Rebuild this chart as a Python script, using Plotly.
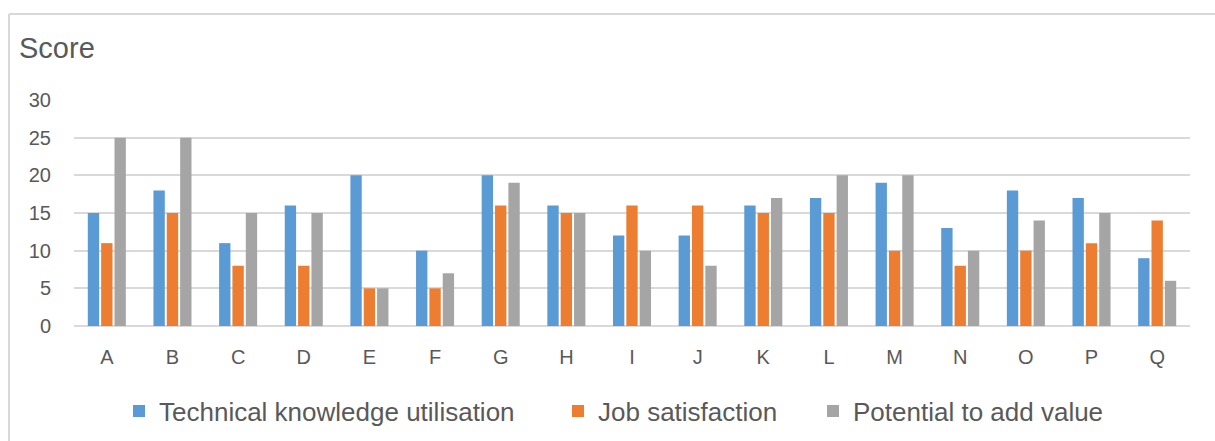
import plotly.graph_objects as go

categories = list("ABCDEFGHIJKLMNOPQ")
technical = [15, 18, 11, 16, 20, 10, 20, 16, 12, 12, 16, 17, 19, 13, 18, 17, 9]
job_satisfaction = [11, 15, 8, 8, 5, 5, 16, 15, 16, 16, 15, 15, 10, 8, 10, 11, 14]
potential = [25, 25, 15, 15, 5, 7, 19, 15, 10, 8, 17, 20, 20, 10, 14, 15, 6]
series_names = ["Technical knowledge utilisation", "Job satisfaction", "Potential to add value"]
colors = ["#5B9BD5", "#ED7D31", "#A5A5A5"]

FONT = "Liberation Sans, Arial, sans-serif"
TXT = "#595959"
GRID = "#D9D9D9"

W, H = 1215, 441
L, R, T, B = 74, 25, 100, 115
pw, ph = W - L - R, H - T - B

def px2x(px):
    return (px - L) / pw

def py2y(py):
    return (H - B - py) / ph

legend_keys = ["legend", "legend2", "legend3"]
legend_px = [139, 578, 833]  # approximate symbol centers

fig = go.Figure()
for name, vals, c, lk in zip(series_names, [technical, job_satisfaction, potential], colors, legend_keys):
    fig.add_trace(go.Bar(x=categories, y=vals, name=name, legend=lk,
                         marker=dict(color=c, line=dict(width=0))))

legend_common = dict(orientation="h", xref="container", yref="container",
                     yanchor="middle", y=1 - 411 / H, xanchor="left",
                     font=dict(size=26, color=TXT, family=FONT), bgcolor="rgba(0,0,0,0)",
                     borderwidth=0)
legends = {}
for lk, cx in zip(legend_keys, legend_px):
    legends[lk] = dict(legend_common, x=(cx - 20) / W)

fig.update_layout(
    width=W, height=H,
    margin=dict(l=L, r=R, t=T, b=B, pad=0),
    paper_bgcolor="white", plot_bgcolor="white",
    barmode="group", bargap=0.39, bargroupgap=0.15,
    font=dict(family=FONT, color=TXT),
    showlegend=True,
    **legends,
    xaxis=dict(showgrid=False, showline=False, ticks="", tickfont=dict(size=20, color=TXT),
               ticklabelstandoff=17),
    yaxis=dict(range=[0, 30], dtick=5, tick0=0, showgrid=True, gridcolor=GRID, gridwidth=1.5,
               zeroline=True, zerolinecolor=GRID, zerolinewidth=1.5, ticks="",
               tickfont=dict(size=20, color=TXT), ticklabelstandoff=22),
    annotations=[dict(text="Score", xref="paper", yref="paper", x=px2x(17), y=py2y(48),
                      xanchor="left", yanchor="middle", showarrow=False,
                      font=dict(size=29, color=TXT, family=FONT))],
    shapes=[
        dict(type="line", xref="paper", yref="paper", x0=px2x(9), x1=px2x(1240), y0=py2y(14), y1=py2y(14),
             line=dict(color=GRID, width=2)),
        dict(type="line", xref="paper", yref="paper", x0=px2x(9), x1=px2x(9), y0=py2y(14), y1=py2y(460),
             line=dict(color=GRID, width=2)),
    ],
)

fig.write_html("out.html")
